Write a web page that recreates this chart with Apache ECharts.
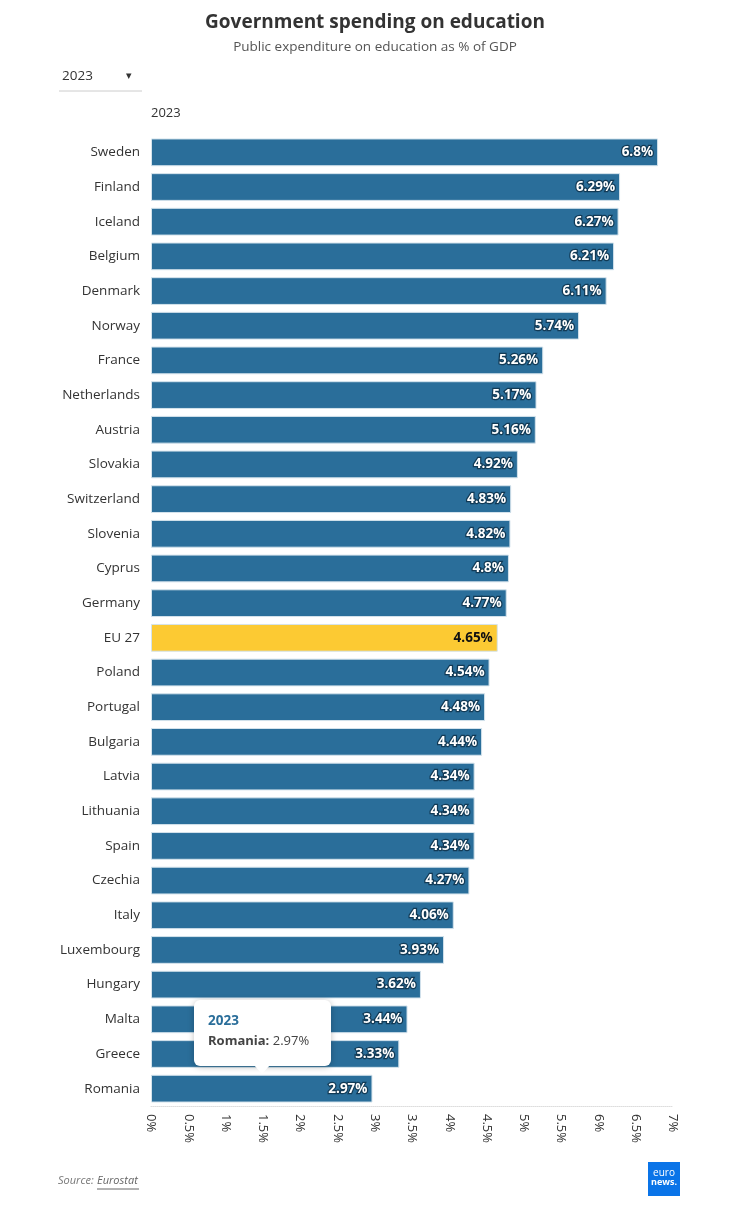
<!DOCTYPE html>
<html>
<head>
<meta charset="utf-8">
<script src="https://cdn.jsdelivr.net/npm/echarts@6/dist/echarts.min.js"></script>
<style>
html,body{margin:0;padding:0;background:#fff;}
#main{width:750px;height:1210px;}
</style>
</head>
<body>
<div id="main"></div>
<script>
const countries = ["Sweden","Finland","Iceland","Belgium","Denmark","Norway","France","Netherlands","Austria","Slovakia","Switzerland","Slovenia","Cyprus","Germany","EU 27","Poland","Portugal","Bulgaria","Latvia","Lithuania","Spain","Czechia","Italy","Luxembourg","Hungary","Malta","Greece","Romania"];
const values2023 = [6.8,6.29,6.27,6.21,6.11,5.74,5.26,5.17,5.16,4.92,4.83,4.82,4.8,4.77,4.65,4.54,4.48,4.44,4.34,4.34,4.34,4.27,4.06,3.93,3.62,3.44,3.33,2.97];
const xTicks = [0,0.5,1,1.5,2,2.5,3,3.5,4,4.5,5,5.5,6,6.5,7];
const seriesName = "2023";
const highlight = "EU 27";
const tooltipCountry = "Romania";

const FONT = "'Open Sans', 'Noto Sans', sans-serif";
const BLUE = "#2a6e9a";
const YELLOW = "#fcca33";

const chart = echarts.init(document.getElementById('main'), null, {renderer:'canvas'});

const dataItems = countries.map((c,i)=>{
  const isHi = c === highlight;
  return {
    value: values2023[i],
    itemStyle: {color: isHi ? YELLOW : BLUE},
    label: isHi ? {color:'#111', textBorderWidth:0} : {}
  };
});

const tipIdx = countries.indexOf(tooltipCountry);
const tipVal = values2023[tipIdx];

chart.setOption({
  animation:false,
  backgroundColor:'#fff',
  title:{
    text:'Government spending on education',
    subtext:'Public expenditure on education as % of GDP',
    left:'center', top:8, itemGap:8,
    textStyle:{fontFamily:FONT, fontSize:19, fontWeight:'bold', color:'#333'},
    subtextStyle:{fontFamily:FONT, fontSize:13.5, color:'#555'}
  },
  grid:{left:151, right:77, top:135, bottom:104, containLabel:false},
  xAxis:{
    type:'value', min:xTicks[0], max:xTicks[xTicks.length-1], interval:0.5,
    axisLine:{show:true, lineStyle:{color:'#ddd', type:'dotted'}},
    axisTick:{show:false},
    splitLine:{show:false},
    axisLabel:{rotate:-90, formatter:v=>v+'%', fontFamily:FONT, fontSize:13, color:'#333', margin:8}
  },
  yAxis:{
    type:'category', data:countries, inverse:true,
    axisLine:{show:false}, axisTick:{show:false},
    axisLabel:{fontFamily:FONT, fontSize:13.5, color:'#333', margin:11}
  },
  series:[{
    name:seriesName, type:'bar', data:dataItems,
    barCategoryGap:'20%',
    itemStyle:{borderColor:'#d4e3ec', borderWidth:1},
    label:{show:true, position:'insideRight', distance:5, formatter:p=>p.value+'%',
      fontFamily:FONT, fontSize:13.5, fontWeight:'bold', color:'#fff',
      textBorderColor:'#123a55', textBorderWidth:2.5}
  }],
  graphic:[
    {type:'text', left:62, top:69, style:{text:seriesName, font:'13.5px '+FONT, fill:'#333'}},
    {type:'text', left:126, top:70, style:{text:'▾', font:'11px '+FONT, fill:'#333'}},
    {type:'line', shape:{x1:59,y1:91,x2:142,y2:91}, style:{stroke:'#ccc', lineWidth:1}},
    {type:'text', left:151, top:107, style:{text:seriesName, font:'13px '+FONT, fill:'#333'}},
    {type:'text', left:58, top:1175, style:{text:'Source: ', font:'italic 11px '+FONT, fill:'#777'}},
    {type:'text', left:97, top:1175, style:{text:'Eurostat', font:'italic 11px '+FONT, fill:'#666'}},
    {type:'line', shape:{x1:97,y1:1189,x2:139,y2:1189}, style:{stroke:'#666', lineWidth:1}},
    {type:'rect', shape:{x:648,y:1162,width:32,height:34}, style:{fill:'#0a74e8'}},
    {type:'text', x:664, y:1173, style:{text:'euro', font:'10px '+FONT, fill:'#fff', align:'center', verticalAlign:'middle'}},
    {type:'text', x:664, y:1182, style:{text:'news.', font:'bold 9px '+FONT, fill:'#fff', align:'center', verticalAlign:'middle'}},
    {type:'group', z:100, children:[
      {type:'rect', z:100, shape:{x:194,y:1000,width:137,height:66,r:6},
        style:{fill:'#fff', shadowBlur:6, shadowColor:'rgba(0,0,0,0.25)', shadowOffsetY:1}},
      {type:'polygon', z:101, shape:{points:[[254,1065],[270,1065],[262,1074]]}, style:{fill:'#fff'}},
      {type:'text', z:102, left:208, top:1014, style:{text:seriesName, font:'bold 13.5px '+FONT, fill:BLUE}},
      {type:'text', z:102, left:208, top:1035, style:{
        text:'{b|'+tooltipCountry+':} '+tipVal+'%',
        font:'13px '+FONT, fill:'#444',
        rich:{b:{fontWeight:'bold', fontFamily:FONT, fontSize:13, fill:'#444'}}}}
    ]}
  ]
});
</script>
</body>
</html>
